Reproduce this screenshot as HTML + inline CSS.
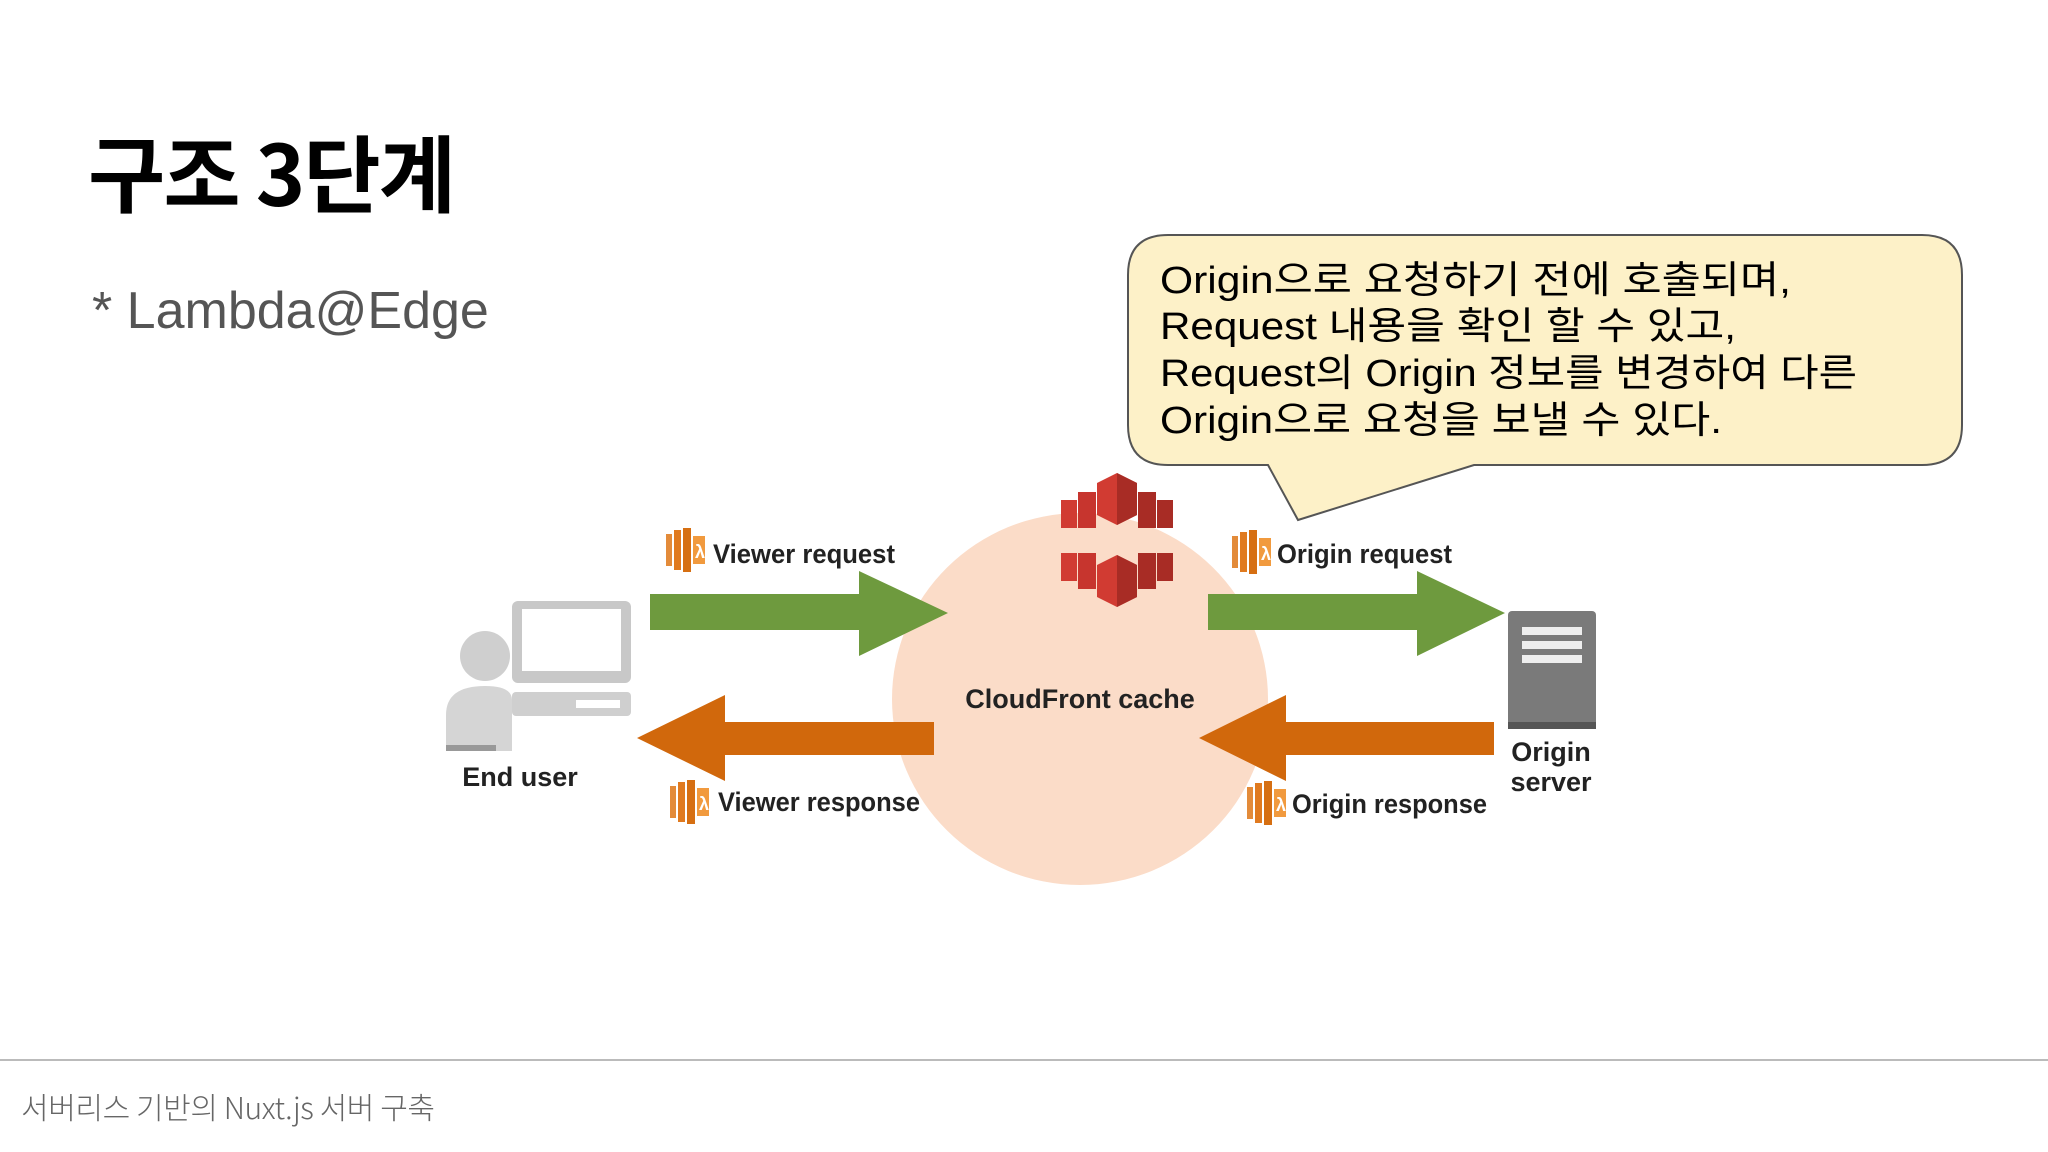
<!DOCTYPE html>
<html><head><meta charset="utf-8"><style>
html,body{margin:0;padding:0;background:#fff;}
svg{display:block;}
</style></head><body>
<svg width="2048" height="1152" viewBox="0 0 2048 1152" xmlns="http://www.w3.org/2000/svg">
<rect width="2048" height="1152" fill="#fff"/>
<text x="88" y="206" font-family="'Noto Sans CJK KR', 'Liberation Sans', sans-serif" font-size="84" font-weight="bold" fill="#000" textLength="368">구조 3단계</text>
<text x="92" y="328" font-family="'Liberation Sans','Noto Sans CJK KR', sans-serif" font-size="52" fill="#555">* Lambda@Edge</text>

<!-- callout -->
<path d="M1168 235 H1922 Q1962 235 1962 275 V425 Q1962 465 1922 465 H1474 L1298 520 L1268 465 H1168 Q1128 465 1128 425 V275 Q1128 235 1168 235 Z" fill="#fdf1c8" stroke="#555" stroke-width="2"/>
<g font-family="'Liberation Sans','Noto Sans CJK KR', sans-serif" font-size="38" fill="#000">
<text x="1160" y="293" textLength="631" lengthAdjust="spacingAndGlyphs">Origin으로 요청하기 전에 호출되며,</text>
<text x="1160" y="339" textLength="576" lengthAdjust="spacingAndGlyphs">Request 내용을 확인 할 수 있고,</text>
<text x="1160" y="386" textLength="697" lengthAdjust="spacingAndGlyphs">Request의 Origin 정보를 변경하여 다른</text>
<text x="1160" y="433" textLength="562" lengthAdjust="spacingAndGlyphs">Origin으로 요청을 보낼 수 있다.</text>
</g>

<!-- cache circle -->
<ellipse cx="1080" cy="699" rx="188" ry="186" fill="#fbdcc8"/>

<!-- cloudfront icon (symmetric) -->
<g>
<polygon points="1097,483 1117,473 1137,483 1137,515 1117,525 1097,515" fill="#d13b32"/>
<polygon points="1117,473 1137,483 1137,515 1117,525" fill="#a82c25"/>
<rect x="1078" y="492" width="18" height="36" fill="#c7352e"/>
<rect x="1138" y="492" width="18" height="36" fill="#a82c25"/>
<rect x="1061" y="500" width="16" height="28" fill="#d13b32"/>
<rect x="1157" y="500" width="16" height="28" fill="#a82c25"/>
<polygon points="1097,597 1117,607 1137,597 1137,565 1117,555 1097,565" fill="#d13b32"/>
<polygon points="1117,607 1137,597 1137,565 1117,555" fill="#a82c25"/>
<rect x="1078" y="553" width="18" height="36" fill="#c7352e"/>
<rect x="1138" y="553" width="18" height="36" fill="#a82c25"/>
<rect x="1061" y="553" width="16" height="28" fill="#d13b32"/>
<rect x="1157" y="553" width="16" height="28" fill="#a82c25"/>
</g>

<!-- arrows -->
<polygon points="650,594 859,594 859,571 948,613 859,656 859,630 650,630" fill="#6e9a3e"/>
<polygon points="1208,594 1417,594 1417,571 1505,613 1417,656 1417,630 1208,630" fill="#6e9a3e"/>
<polygon points="934,722 725,722 725,695 637,738 725,781 725,755 934,755" fill="#d1680c"/>
<polygon points="1494,722 1286,722 1286,695 1199,738 1286,781 1286,755 1494,755" fill="#d1680c"/>

<!-- end user -->
<g>
<rect x="512" y="601" width="119" height="82" rx="6" fill="#c8c8c8"/>
<rect x="522" y="609" width="99" height="62" fill="#fff"/>
<rect x="512" y="692" width="119" height="24" rx="4" fill="#cfcfcf"/>
<rect x="576" y="700" width="44" height="8" fill="#fff"/>
<circle cx="485" cy="656" r="25" fill="#cfcfcf"/>
<path d="M446 751 V715 Q446 686 485 686 Q512 686 512 700 V751 Z" fill="#d5d5d5"/>
<rect x="446" y="745" width="50" height="6" fill="#999"/>
</g>
<text x="520" y="786" text-anchor="middle" font-family="'Liberation Sans Narrow','Liberation Sans',sans-serif" font-size="27" font-weight="bold" fill="#222">End user</text>

<!-- server -->
<rect x="1508" y="611" width="88" height="118" rx="4" fill="#7a7a7a"/>
<rect x="1508" y="722" width="88" height="7" fill="#555"/>
<rect x="1522" y="627" width="60" height="8" fill="#eee"/>
<rect x="1522" y="641" width="60" height="8" fill="#eee"/>
<rect x="1522" y="655" width="60" height="8" fill="#eee"/>
<g font-family="'Liberation Sans Narrow','Liberation Sans',sans-serif" font-size="27" font-weight="bold" fill="#222" text-anchor="middle">
<text x="1551" y="761">Origin</text>
<text x="1551" y="791">server</text>
<text x="1080" y="708" text-anchor="middle">CloudFront cache</text>
</g>

<!-- lambda icons -->
<g fill="#e07a1f">
<g transform="translate(666,528)"><rect x="0" y="6" width="6" height="32" fill="#e38b3a"/><rect x="8" y="2" width="7" height="40"/><rect x="17" y="0" width="8" height="44" fill="#d66f12"/><rect x="27" y="8" width="12" height="28" fill="#f19a3e"/><text x="29" y="30" font-size="18" font-family="Liberation Sans" fill="#fff" font-weight="bold">λ</text></g>
<g transform="translate(1232,530)"><rect x="0" y="6" width="6" height="32" fill="#e38b3a"/><rect x="8" y="2" width="7" height="40"/><rect x="17" y="0" width="8" height="44" fill="#d66f12"/><rect x="27" y="8" width="12" height="28" fill="#f19a3e"/><text x="29" y="30" font-size="18" font-family="Liberation Sans" fill="#fff" font-weight="bold">λ</text></g>
<g transform="translate(670,780)"><rect x="0" y="6" width="6" height="32" fill="#e38b3a"/><rect x="8" y="2" width="7" height="40"/><rect x="17" y="0" width="8" height="44" fill="#d66f12"/><rect x="27" y="8" width="12" height="28" fill="#f19a3e"/><text x="29" y="30" font-size="18" font-family="Liberation Sans" fill="#fff" font-weight="bold">λ</text></g>
<g transform="translate(1247,781)"><rect x="0" y="6" width="6" height="32" fill="#e38b3a"/><rect x="8" y="2" width="7" height="40"/><rect x="17" y="0" width="8" height="44" fill="#d66f12"/><rect x="27" y="8" width="12" height="28" fill="#f19a3e"/><text x="29" y="30" font-size="18" font-family="Liberation Sans" fill="#fff" font-weight="bold">λ</text></g>
</g>
<g font-family="'Liberation Sans Narrow','Liberation Sans',sans-serif" font-size="27" font-weight="bold" fill="#222">
<text x="713" y="563" textLength="182" lengthAdjust="spacingAndGlyphs">Viewer request</text>
<text x="1277" y="563" textLength="175" lengthAdjust="spacingAndGlyphs">Origin request</text>
<text x="718" y="811" textLength="202" lengthAdjust="spacingAndGlyphs">Viewer response</text>
<text x="1292" y="813" textLength="195" lengthAdjust="spacingAndGlyphs">Origin response</text>
</g>

<!-- footer -->
<rect x="0" y="1059" width="2048" height="2" fill="#bbb"/>
<text x="21" y="1119" font-family="'Noto Sans CJK KR','Liberation Sans',sans-serif" font-size="30" font-weight="300" fill="#666" textLength="414">서버리스 기반의 Nuxt.js 서버 구축</text>
</svg>
</body></html>
